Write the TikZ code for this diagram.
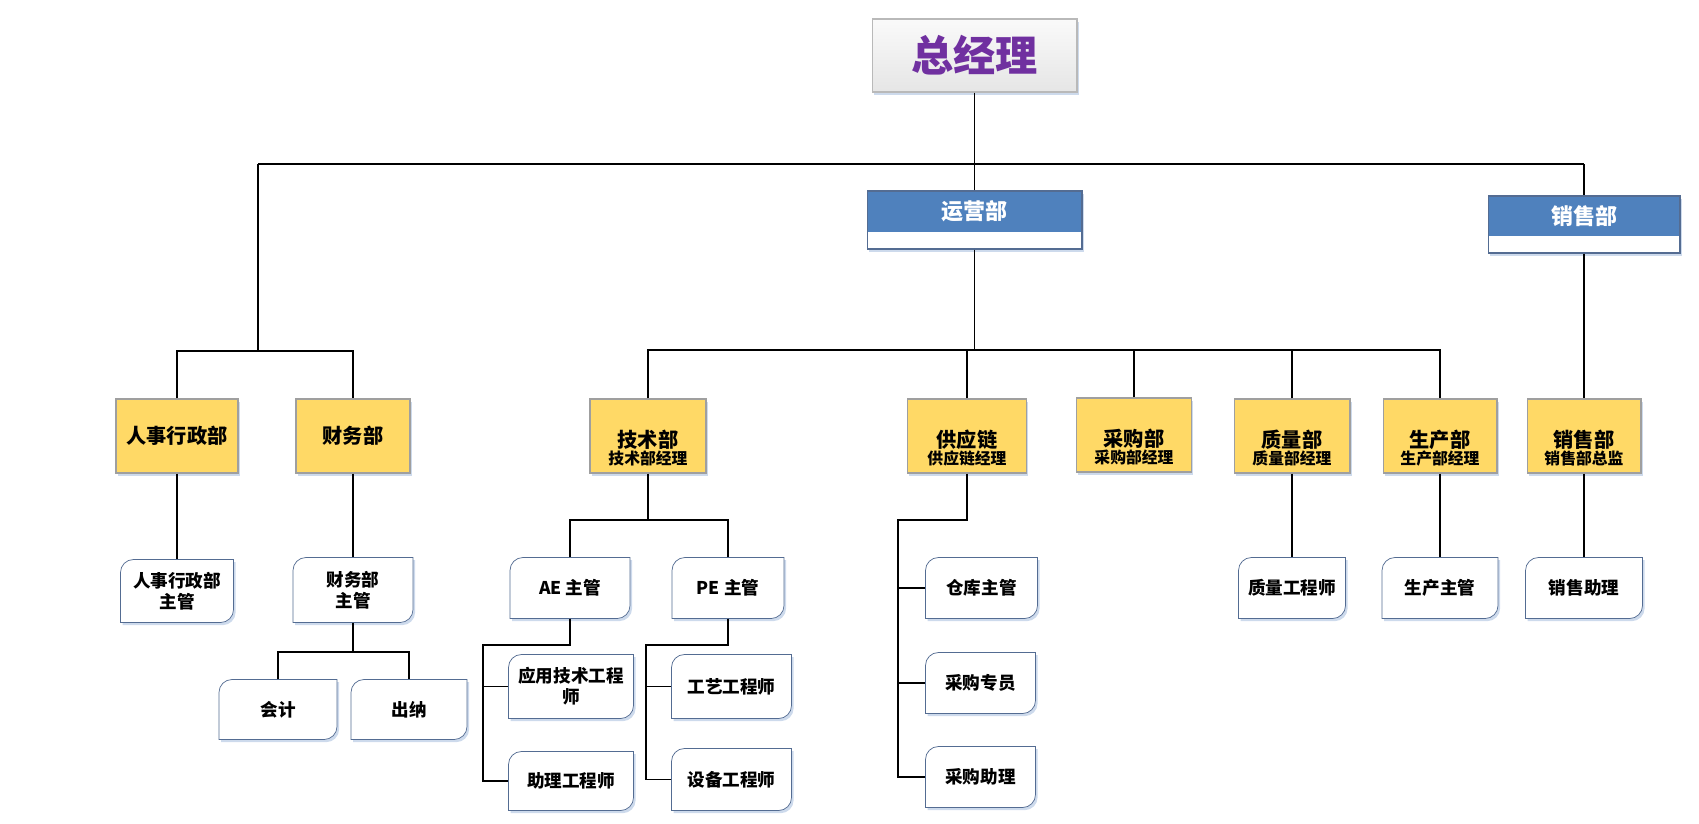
\documentclass[tikz,border=0pt]{standalone}
\usepackage{fontspec}
\setmainfont{Noto Sans CJK SC}
\usepackage{xcolor}
\usepackage{tikz}
\usetikzlibrary{backgrounds,shadows}

\definecolor{unityellow}{RGB}{255,217,102}
\definecolor{headblue}{RGB}{79,129,189}
\definecolor{subline}{RGB}{84,108,146}
\definecolor{gmpurple}{RGB}{112,48,160}
\definecolor{shadowblue}{RGB}{205,218,236}

\newcommand{\unitname}[2]{\rule{0pt}{0.83cm}{\fontsize{11.5}{9.3}\selectfont #1}\\#2}

\begin{document}
\begin{tikzpicture}[x=0.02cm,y=-0.02cm,line width=0.6pt,
  gmbox/.style={draw=gray!55,top color=gray!4,bottom color=gray!20,minimum width=4.1cm,minimum height=1.46cm,text=gmpurple,font=\fontsize{24}{28}\selectfont\bfseries,drop shadow={shadow xshift=1pt,shadow yshift=-1.5pt,fill=shadowblue,opacity=1}},
  head/.style={draw=subline,fill=white,path picture={\fill[headblue] (path picture bounding box.north west) rectangle ([yshift=0.34cm]path picture bounding box.south east);},drop shadow={shadow xshift=1pt,shadow yshift=-1.5pt,fill=shadowblue,opacity=1}},
  headtext/.style={text=white,font=\fontsize{12.5}{14}\selectfont\bfseries,yshift=0.17cm},
  unit/.style={draw=gray!75,fill=unityellow,minimum height=1.48cm,inner sep=2pt,align=center,font=\fontsize{9}{9.3}\selectfont\bfseries,drop shadow={shadow xshift=1pt,shadow yshift=-1.5pt,fill=shadowblue,opacity=1}},
  unitone/.style={unit,font=\fontsize{11.5}{14}\selectfont\bfseries},
  sub/.style={minimum height=1.2cm,inner sep=2pt,align=center,font=\fontsize{10}{12}\selectfont\bfseries}]

\useasboundingbox (0,0) rectangle (1699,823);

\node[gmbox] (gm) at (974.5,55.5) {总经理};
\node[head,minimum width=4.3cm,minimum height=1.16cm,label={[headtext]center:运营部}] (ops) at (974.5,220) {};
\node[head,minimum width=3.84cm,minimum height=1.14cm,label={[headtext]center:销售部}] (salestop) at (1584,224.5) {};

\node[unitone,minimum width=2.44cm] (hr) at (177,436) {人事行政部};
\node[unitone,minimum width=2.28cm] (fin) at (353,436) {财务部};
\node[unit,minimum width=2.32cm] (tech) at (648,436) {\unitname{技术部}{技术部经理}};
\node[unit,minimum width=2.38cm] (supply) at (967,436) {\unitname{供应链}{供应链经理}};
\node[unit,minimum width=2.3cm] (purch) at (1134,435) {\unitname{采购部}{采购部经理}};
\node[unit,minimum width=2.32cm] (qual) at (1292,436) {\unitname{质量部}{质量部经理}};
\node[unit,minimum width=2.28cm] (prod) at (1440,436) {\unitname{生产部}{生产部经理}};
\node[unit,minimum width=2.28cm] (salesdir) at (1584,436) {\unitname{销售部}{销售部总监}};

\node[sub,minimum width=2.24cm,minimum height=1.24cm] (hrm) at (177,591) {人事行政部\\主管};
\node[sub,minimum width=2.38cm,minimum height=1.28cm] (finm) at (353,590) {财务部\\主管};
\node[sub,minimum width=2.34cm,minimum height=1.18cm] (acct) at (278,709.5) {会计};
\node[sub,minimum width=2.3cm,minimum height=1.18cm] (cash) at (409,709.5) {出纳};
\node[sub,minimum width=2.38cm] (ae) at (570,588) {AE 主管};
\node[sub,minimum width=2.22cm] (pe) at (728,588) {PE 主管};
\node[sub,minimum width=2.48cm,minimum height=1.26cm] (appeng) at (571,686.5) {应用技术工程\\师};
\node[sub,minimum width=2.48cm,minimum height=1.16cm] (asseng) at (571,781) {助理工程师};
\node[sub,minimum width=2.38cm,minimum height=1.26cm] (proc) at (731.5,686.5) {工艺工程师};
\node[sub,minimum width=2.38cm,minimum height=1.22cm] (equip) at (731.5,779.5) {设备工程师};
\node[sub,minimum width=2.22cm] (whm) at (981.5,588) {仓库主管};
\node[sub,minimum width=2.18cm] (buyer) at (980.5,683) {采购专员};
\node[sub,minimum width=2.18cm] (buyasst) at (980.5,777) {采购助理};
\node[sub,minimum width=2.12cm] (qeng) at (1292,588) {质量工程师};
\node[sub,minimum width=2.3cm] (prodm) at (1440,588) {生产主管};
\node[sub,minimum width=2.32cm] (salesasst) at (1584,588) {销售助理};

\begin{scope}[on background layer]
\foreach \n in {hrm,finm,acct,cash,ae,pe,appeng,asseng,proc,equip,whm,buyer,buyasst,qeng,prodm,salesasst}{
  \fill[shadowblue,transform canvas={xshift=1.2pt,yshift=-1.5pt}] (\n.west) [rounded corners=0.26cm] |- (\n.north) [sharp corners] -| (\n.east) [rounded corners=0.26cm] |- (\n.south) [sharp corners] -| (\n.west) -- cycle;
  \draw[subline,fill=white] (\n.west) [rounded corners=0.26cm] |- (\n.north) [sharp corners] -| (\n.east) [rounded corners=0.26cm] |- (\n.south) [sharp corners] -| (\n.west) -- cycle;
}
\end{scope}

\coordinate (tl) at (258,164);
\coordinate (tr) at (1584,164);
\coordinate (hb) at (258,351);
\coordinate (ob) at (974.5,350);
\coordinate (fb) at (353,652);
\coordinate (tb) at (648,520);
\coordinate (ab) at (483,645);
\coordinate (pb) at (646,645);
\coordinate (sb) at (898,520);

\draw (gm) -- (gm.south |- tl);
\draw (tl) -- (tr);
\draw (ops) -- (ops.north |- tl);
\draw (tr) -- (salestop);
\draw (tl) -- (hb);
\draw (hr.north) |- (hb) -| (fin.north);
\draw (ops) -- (ob);
\draw (tech.north) |- (ob) -| (prod.north);
\foreach \n in {supply,purch,qual} \draw (\n.north) -- (\n.north |- ob);
\draw (salestop) -- (salesdir);

\draw (hr) -- (hrm);
\draw (fin) -- (finm);
\draw (finm) -- (fb);
\draw (acct.north) |- (fb) -| (cash.north);
\draw (tech) -- (tb);
\draw (ae.north) |- (tb) -| (pe.north);
\draw (ae.south) |- (ab) |- (asseng.west);
\draw (ab |- appeng.west) -- (appeng.west);
\draw (pe.south) |- (pb) |- (equip.west);
\draw (pb |- proc.west) -- (proc.west);
\draw (supply.south) |- (sb) |- (buyasst.west);
\draw (sb |- whm.west) -- (whm.west);
\draw (sb |- buyer.west) -- (buyer.west);
\draw (qual) -- (qeng);
\draw (prod) -- (prodm);
\draw (salesdir) -- (salesasst);

\end{tikzpicture}
\end{document}
